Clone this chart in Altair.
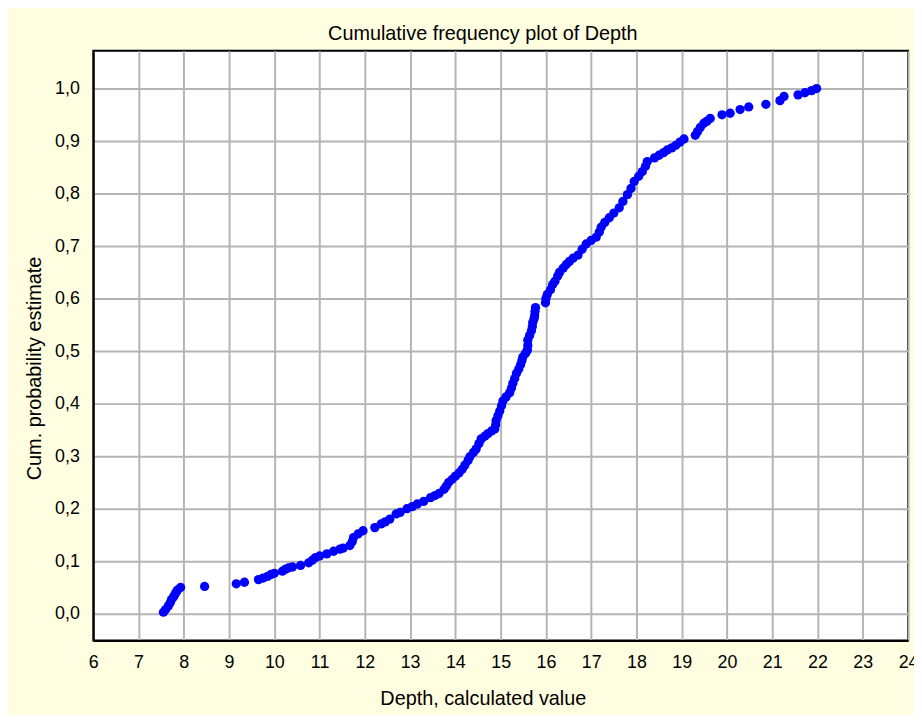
import altair as alt
import pandas as pd

depth = [7.55, 7.6, 7.66, 7.7, 7.73, 7.77, 7.8, 7.83, 7.86, 7.93, 8.46, 9.16, 9.34,
         9.65, 9.75, 9.85, 9.93, 10.0, 10.18, 10.25, 10.33, 10.4, 10.58, 10.76, 10.84,
         10.91, 11.0, 11.16, 11.31, 11.45, 11.52, 11.67, 11.72, 11.75, 11.85, 11.96,
         12.22, 12.36, 12.45, 12.55, 12.69, 12.78, 12.93, 13.05, 13.16, 13.3, 13.45,
         13.55, 13.64, 13.75, 13.8, 13.85, 13.93, 14.0, 14.08, 14.15, 14.21, 14.28,
         14.32, 14.4, 14.46, 14.52, 14.57, 14.65, 14.72, 14.8, 14.87, 14.89, 14.9,
         14.94, 14.98, 15.02, 15.05, 15.12, 15.2, 15.24, 15.27, 15.31, 15.35, 15.4,
         15.44, 15.47, 15.49, 15.55, 15.59, 15.6, 15.6, 15.64, 15.68, 15.7, 15.71,
         15.74, 15.75, 15.76, 15.77, 15.99, 16.0, 16.03, 16.1, 16.15, 16.2, 16.26,
         16.3, 16.38, 16.45, 16.52, 16.6, 16.71, 16.8, 16.89, 17.0, 17.11, 17.18,
         17.22, 17.3, 17.4, 17.5, 17.62, 17.7, 17.8, 17.88, 17.95, 18.05, 18.13,
         18.2, 18.24, 18.4, 18.5, 18.6, 18.68, 18.78, 18.87, 18.96, 19.05, 19.3,
         19.35, 19.41, 19.49, 19.56, 19.63, 19.89, 20.07, 20.29, 20.48, 20.86,
         21.17, 21.26, 21.57, 21.72, 21.87, 21.98]
cum_prob = [0.003, 0.008, 0.015, 0.021, 0.027, 0.032, 0.036, 0.041, 0.045, 0.05, 0.052,
            0.057, 0.06, 0.065, 0.068, 0.071, 0.075, 0.077, 0.081, 0.085, 0.088, 0.089,
            0.092, 0.097, 0.102, 0.107, 0.11, 0.114, 0.119, 0.123, 0.125, 0.13, 0.137,
            0.145, 0.152, 0.158, 0.164, 0.171, 0.175, 0.18, 0.19, 0.193, 0.2, 0.204,
            0.209, 0.214, 0.221, 0.225, 0.229, 0.237, 0.243, 0.25, 0.256, 0.262, 0.268,
            0.275, 0.283, 0.292, 0.299, 0.307, 0.314, 0.324, 0.333, 0.338, 0.343, 0.348,
            0.352, 0.36, 0.368, 0.377, 0.386, 0.396, 0.405, 0.413, 0.421, 0.43, 0.439,
            0.448, 0.458, 0.466, 0.474, 0.482, 0.489, 0.496, 0.502, 0.511, 0.521, 0.53,
            0.539, 0.547, 0.555, 0.562, 0.568, 0.576, 0.583, 0.592, 0.6, 0.608, 0.617,
            0.627, 0.633, 0.643, 0.65, 0.658, 0.665, 0.671, 0.677, 0.683, 0.694, 0.704,
            0.711, 0.717, 0.727, 0.736, 0.745, 0.754, 0.763, 0.773, 0.785, 0.798, 0.81,
            0.823, 0.833, 0.842, 0.852, 0.861, 0.868, 0.873, 0.878, 0.883, 0.887, 0.892,
            0.898, 0.904, 0.911, 0.918, 0.926, 0.934, 0.938, 0.943, 0.95, 0.953, 0.96,
            0.965, 0.97, 0.977, 0.985, 0.988, 0.992, 0.996, 1.0]

x_ticks = list(range(6, 25))
y_ticks = [0.0, 0.1, 0.2, 0.3, 0.4, 0.5, 0.6, 0.7, 0.8, 0.9, 1.0]

df = pd.DataFrame({"depth": depth, "p": cum_prob})

FONT = "Liberation Sans"

chart = alt.Chart(df).mark_circle(size=88, color="#0000FF", opacity=1).encode(
    x=alt.X("depth:Q",
            scale=alt.Scale(domain=[6, 24], nice=False, zero=False),
            axis=alt.Axis(values=x_ticks, format="d", title="Depth, calculated value",
                          titleX=393, titleY=59, titleBaseline="middle",
                          titleFontWeight="normal", titleFontSize=20,
                          labelPadding=13, tickSize=0, labelFlush=False)),
    y=alt.Y("p:Q",
            scale=alt.Scale(domain=[-0.051, 1.072], nice=False, zero=False),
            axis=alt.Axis(values=y_ticks,
                          labelExpr="replace(format(datum.value, '.1f'), '.', ',')",
                          title="Cum. probability estimate", titleFontWeight="normal",
                          titleFontSize=20, titleBaseline="middle",
                          titleX=-59, titleY=320, labelPadding=14, tickSize=0,
                          labelFlush=False)),
).properties(
    width=822,
    height=595,
    title=alt.TitleParams("Cumulative frequency plot of Depth", fontSize=20,
                          fontWeight="normal", font=FONT, color="black", dx=-18, offset=7),
    autosize=alt.AutoSizeParams(type="none"),
    padding={"left": 86, "top": 40, "right": 6, "bottom": 72},
    background="#FFFEE0",
).configure_view(
    fill="white", stroke="black", strokeWidth=2
).configure_axis(
    labelFont=FONT, titleFont=FONT, labelFontSize=18, titleFontSize=20,
    labelColor="black", titleColor="black",
    grid=True, gridColor="#b4b4b4", gridWidth=2,
    domain=True, domainColor="black", domainWidth=2,
)

chart.save("out.html", embed_options={"renderer": "svg", "actions": False})
